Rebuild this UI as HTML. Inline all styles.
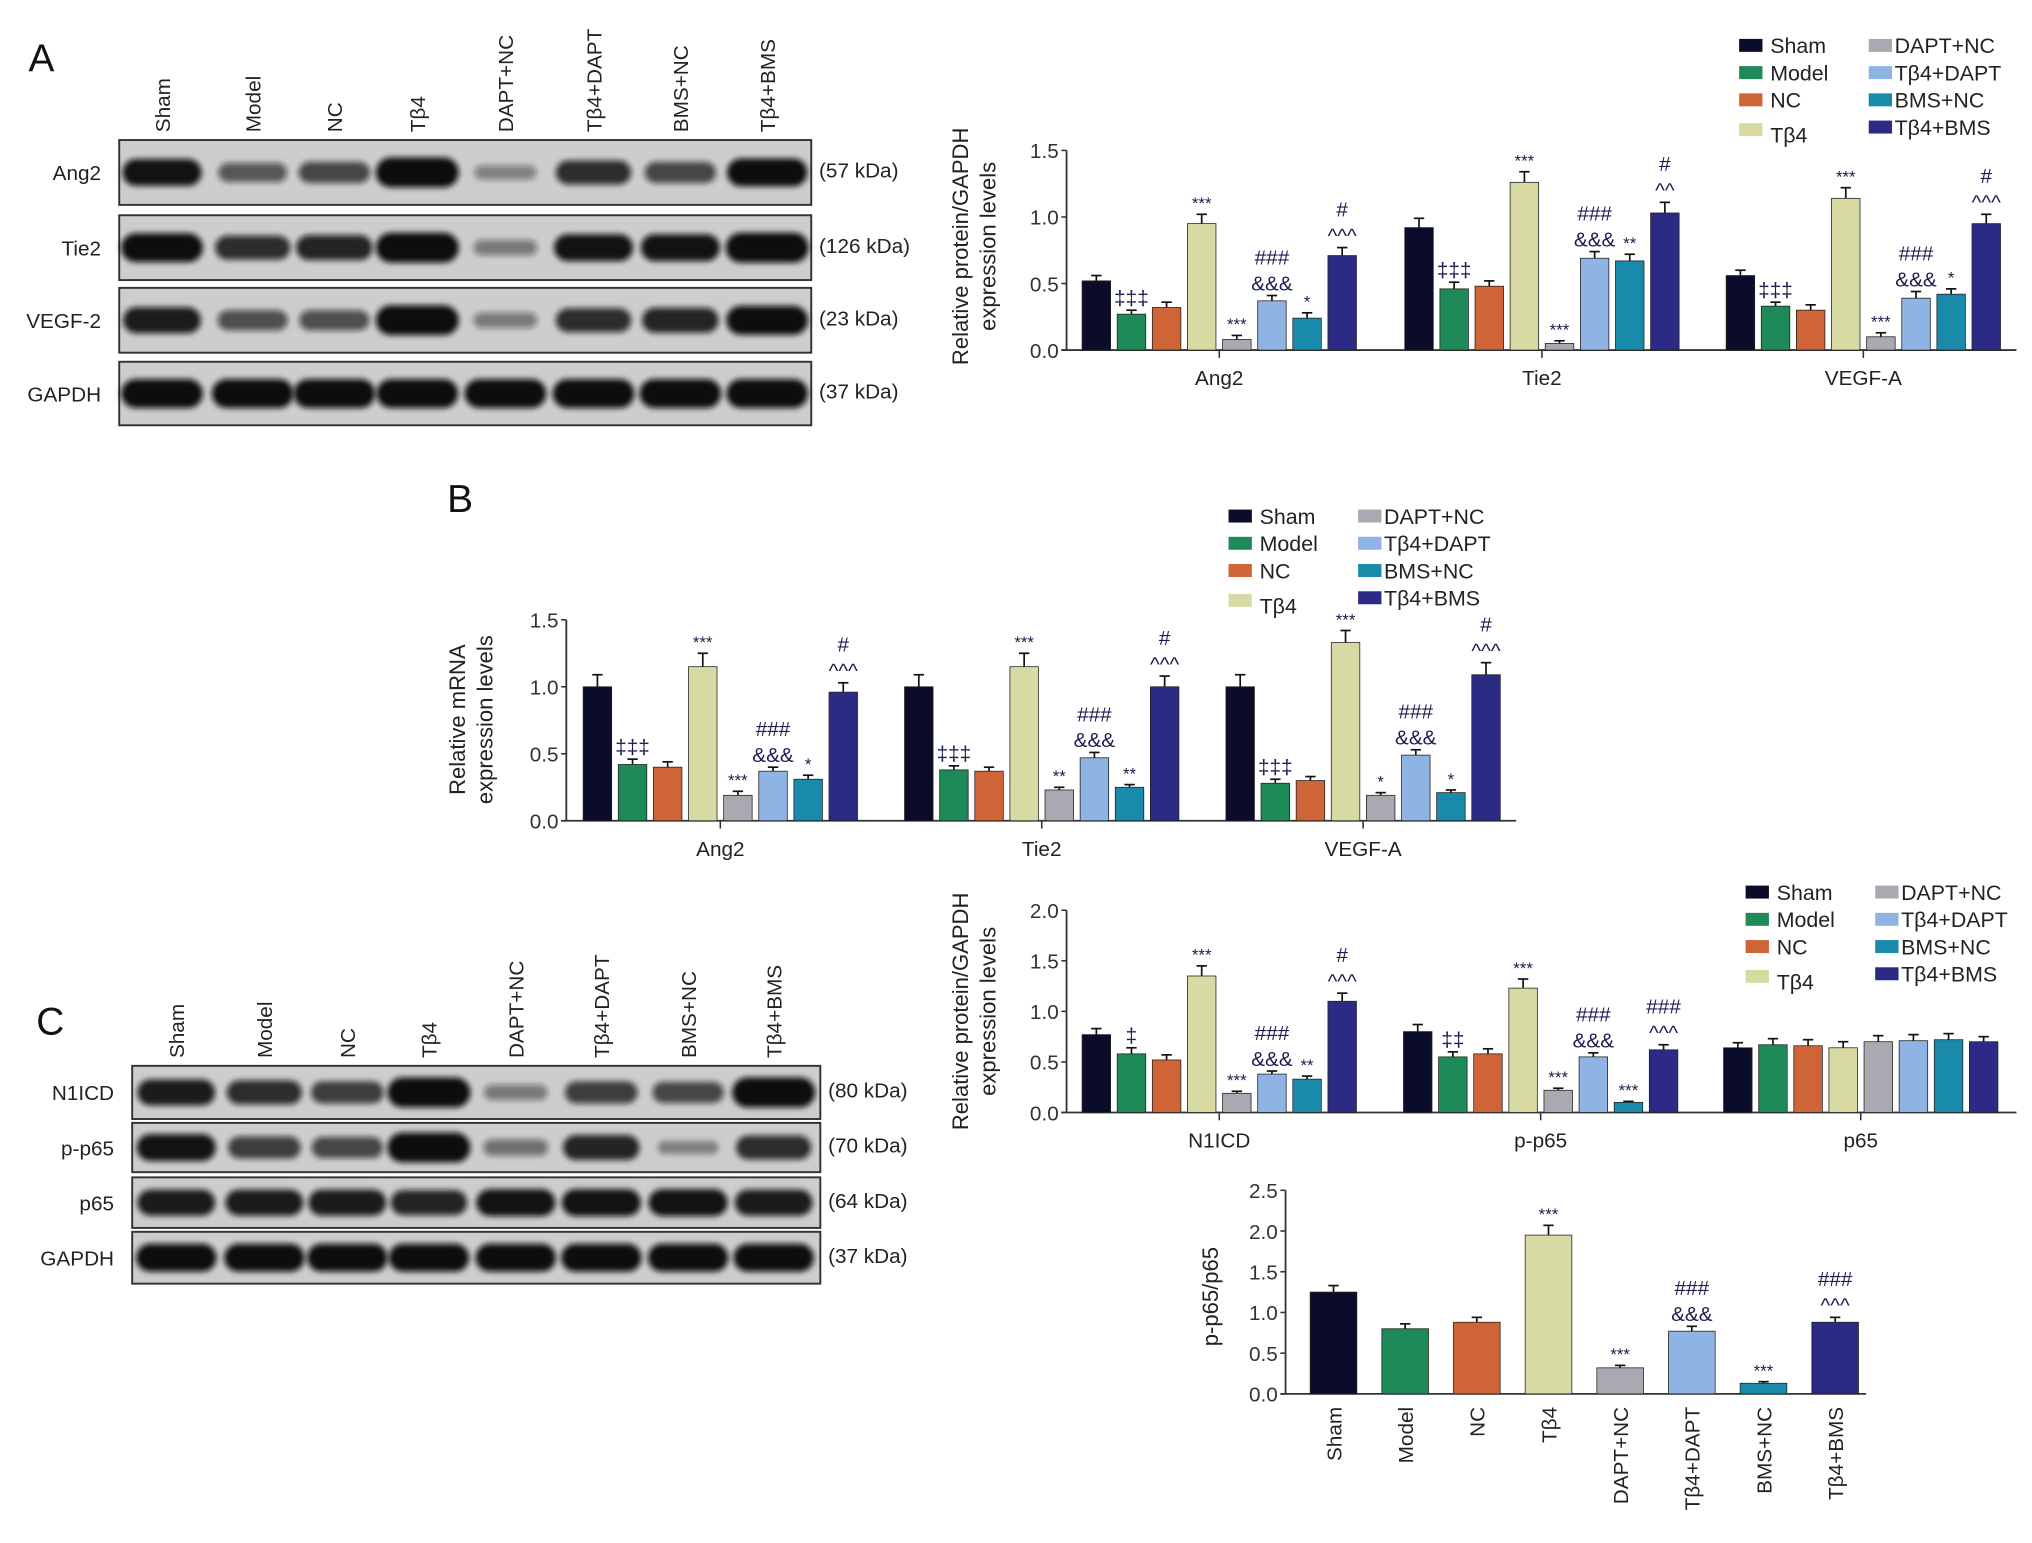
<!DOCTYPE html>
<html><head><meta charset="utf-8"><style>
html,body{margin:0;padding:0;background:#fff;}
svg{display:block;font-family:"Liberation Sans",Arial,sans-serif;}
</style></head><body>
<svg id="fig" width="2032" height="1543" viewBox="0 0 1568 1190" preserveAspectRatio="none">
<defs><filter id="blur" x="-20%" y="-50%" width="140%" height="200%"><feGaussianBlur stdDeviation="2.2"/></filter></defs>
<g id="root"></g>
</svg>
<script>
const groups = ["Sham","Model","NC","Tβ4","DAPT+NC","Tβ4+DAPT","BMS+NC","Tβ4+BMS"];
const colors = ["#0b0b2a","#1e8a58","#cf6437","#d7daa2","#a9a9b2","#8fb3e2","#1a8aab","#2b2b86"];
// Panel A chart
const catA = ["Ang2","Tie2","VEGF-A"];
const valA_Ang2 = [0.52,0.27,0.32,0.95,0.08,0.37,0.24,0.71];
const valA_Tie2 = [0.92,0.46,0.48,1.26,0.05,0.69,0.67,1.03];
const valA_VEGF = [0.56,0.33,0.30,1.14,0.10,0.39,0.42,0.95];
const errA_Ang2 = [0.04,0.03,0.04,0.07,0.03,0.04,0.04,0.06];
const errA_Tie2 = [0.07,0.05,0.04,0.08,0.02,0.05,0.05,0.08];
const errA_VEGF = [0.04,0.03,0.04,0.08,0.03,0.05,0.04,0.07];
const annA_Ang2 = ["","‡‡‡","","***","***","###\n&&&","*","#\n^^^"];
const annA_Tie2 = ["","‡‡‡","","***","***","###\n&&&","**","#\n^^"];
const annA_VEGF = ["","‡‡‡","","***","***","###\n&&&","*","#\n^^^"];
const ticksA = [0.0,0.5,1.0,1.5];
// Panel B chart
const catB = ["Ang2","Tie2","VEGF-A"];
const valB_Ang2 = [1.0,0.42,0.40,1.15,0.19,0.37,0.31,0.96];
const valB_Tie2 = [1.0,0.38,0.37,1.15,0.23,0.47,0.25,1.0];
const valB_VEGF = [1.0,0.28,0.30,1.33,0.19,0.49,0.21,1.09];
const errB_Ang2 = [0.09,0.04,0.04,0.1,0.03,0.03,0.03,0.07];
const errB_Tie2 = [0.09,0.03,0.03,0.1,0.02,0.04,0.02,0.08];
const errB_VEGF = [0.09,0.03,0.03,0.09,0.02,0.04,0.02,0.09];
const annB_Ang2 = ["","‡‡‡","","***","***","###\n&&&","*","#\n^^^"];
const annB_Tie2 = ["","‡‡‡","","***","**","###\n&&&","**","#\n^^^"];
const annB_VEGF = ["","‡‡‡","","***","*","###\n&&&","*","#\n^^^"];
const ticksB = [0.0,0.5,1.0,1.5];
// Panel C top chart
const catC = ["N1ICD","p-p65","p65"];
const valC_N1 = [0.77,0.58,0.52,1.35,0.19,0.38,0.33,1.10];
const valC_pp65 = [0.80,0.55,0.58,1.23,0.22,0.55,0.10,0.62];
const valC_p65 = [0.64,0.67,0.66,0.64,0.70,0.71,0.72,0.70];
const errC_N1 = [0.06,0.06,0.05,0.1,0.02,0.03,0.03,0.08];
const errC_pp65 = [0.07,0.05,0.05,0.09,0.02,0.04,0.01,0.05];
const errC_p65 = [0.05,0.06,0.06,0.06,0.06,0.06,0.06,0.05];
const annC_N1 = ["","‡","","***","***","###\n&&&","**","#\n^^^"];
const annC_pp65 = ["","‡‡","","***","***","###\n&&&","***","###\n^^^"];
const annC_p65 = ["","","","","","","",""];
const ticksC = [0.0,0.5,1.0,1.5,2.0];
// Panel C bottom chart
const valD = [1.25,0.80,0.88,1.95,0.32,0.77,0.13,0.88];
const errD = [0.08,0.06,0.06,0.12,0.03,0.06,0.02,0.06];
const annD = ["","","","***","***","###\n&&&","***","###\n^^^"];
const ticksD = [0.0,0.5,1.0,1.5,2.0,2.5];
// Blot intensities (0-1)
const blotA_Ang2 = [0.85,0.45,0.55,1.0,0.2,0.7,0.55,0.9];
const blotA_Tie2 = [0.95,0.7,0.75,1.0,0.25,0.85,0.85,1.0];
const blotA_VEGF = [0.8,0.5,0.5,1.0,0.25,0.7,0.75,0.95];
const blotA_GAPDH = [0.95,0.95,0.95,0.95,0.95,0.95,0.95,0.95];
const blotC_N1 = [0.8,0.7,0.6,1.0,0.25,0.6,0.55,1.0];
const blotC_pp65 = [0.85,0.6,0.55,1.0,0.3,0.75,0.15,0.7];
const blotC_p65 = [0.8,0.8,0.8,0.75,0.85,0.85,0.85,0.8];
const blotC_GAPDH = [0.9,0.9,0.9,0.9,0.9,0.9,0.9,0.9];

const NS="http://www.w3.org/2000/svg";
const root=document.getElementById('root');
function mk(tag,attrs,parent,text){const e=document.createElementNS(NS,tag);for(const k in attrs)e.setAttribute(k,attrs[k]);if(text!==undefined)e.textContent=text;(parent||root).appendChild(e);return e;}

function txt(x,y,s,size,opts,name,parent){
  const e=mk('text',Object.assign({x:x,y:y,'font-size':size,fill:'#111'},opts||{}),parent,s);
  
  
  return e;
}

function chart(cfg){
  const g=mk('g',{});
  
  
  const ys=v=>cfg.y0-(v/cfg.ymax)*(cfg.y0-cfg.ytop);
  const ax=mk('line',{x1:cfg.x0,y1:cfg.ytop,x2:cfg.x0,y2:cfg.y0,stroke:'#333','stroke-width':1.4},g);
  
  
  const xx=mk('line',{x1:cfg.x0-4,y1:cfg.y0,x2:cfg.xend,y2:cfg.y0,stroke:'#333','stroke-width':1.4},g);
  
  
  cfg.ticks.forEach(t=>{
    const y=ys(t);
    mk('line',{x1:cfg.x0-4,y1:y,x2:cfg.x0,y2:y,stroke:'#333','stroke-width':1.2},g);
    txt(cfg.x0-6,y+6,t.toFixed(1),16,{'text-anchor':'end',fill:'#333'},'y-tick-label',g);
  });
  cfg.series.forEach((sv,gi)=>{
    const start=cfg.starts[gi];
    sv.vals.forEach((v,i)=>{
      const x=start+i*cfg.step, w=cfg.bw;
      const y=ys(v), ye=ys(v+sv.err[i]);
      const cx=x+w/2;
      const el=mk('line',{x1:cx,y1:y,x2:cx,y2:ye,stroke:'#111','stroke-width':1.3},g);
      
      
      mk('line',{x1:cx-4,y1:ye,x2:cx+4,y2:ye,stroke:'#111','stroke-width':1.3},g);
      const r=mk('rect',{x:x,y:y,width:w,height:cfg.y0-y,fill:colors[i],stroke:'#222','stroke-width':0.6},g);
      
      
      const a=sv.ann[i];
      if(a){
        const lines=a.split('\n');
        let yy=ye-4;
        for(let k=lines.length-1;k>=0;k--){
          const s=lines[k];
          const size = s.indexOf('*')>=0 ? 13 : 16;
          txt(cx,yy,s,size,{'text-anchor':'middle',fill:'#1c1c50'},'significance-mark',g);
          yy-=20;
        }
      }
    });
    if(cfg.cats){
      const mid=start+(sv.vals.length*cfg.step-(cfg.step-cfg.bw))/2;
      mk('line',{x1:mid,y1:cfg.y0,x2:mid,y2:cfg.y0+6,stroke:'#333','stroke-width':1.2},g);
      txt(mid,cfg.y0+27,cfg.cats[gi],16,{'text-anchor':'middle',fill:'#222'},'x-category-label',g);
    }
  });
  const lg=mk('g',{transform:`translate(${cfg.ylx},${cfg.ylc}) rotate(-90)`},g);
  cfg.ylabel.forEach((s,k)=>txt(0,k*21,s,17,{'text-anchor':'middle',fill:'#222'},'y-axis-title',lg));
  return g;
}

function legend(x,y){
  const g=mk('g',{});
  
  
  groups.forEach((n,i)=>{
    const col=Math.floor(i/4), row=i%4;
    const lx=x+col*100, ly=y+row*21+(col==0&&row==3?2:0);
    const r=mk('rect',{x:lx,y:ly-10,width:18,height:10,fill:colors[i]},g);
    
    
    txt(lx+(col?20:24),ly+(col==0&&row==3?5:1),n,16.5,{fill:'#222'},'legend-entry',g);
  });
}

function blot(cfg){
  const g=mk('g',{});
  
  
  cfg.rows.forEach((row,ri)=>{
    const [y1,y2]=row.y;
    const r=mk('rect',{x:cfg.x1,y:y1,width:cfg.x2-cfg.x1,height:y2-y1,fill:'#cdcdcd',stroke:'#333','stroke-width':1.5},g);
    
    
    const cy=(y1+y2)/2;
    row.int.forEach((v,i)=>{
      const cx=cfg.lanes[i];
      const h=8+v*15, w=44+v*20;
      mk('rect',{x:cx-w/2,y:cy-h/2,width:w,height:h,rx:h/2,fill:'#111','fill-opacity':Math.min(1,0.25+v*0.85),filter:'url(#blur)'},g);
    });
    txt(cfg.x1-14,cy+6,row.label,16,{'text-anchor':'end',fill:'#222'},'blot-row-label',g);
    txt(cfg.x2+6,cy+4,row.kda,16,{fill:'#222'},'molecular-weight-label',g);
  });
  cfg.lanes.forEach((cx,i)=>{
    const t=mk('g',{transform:`translate(${cx+6},${cfg.labY}) rotate(-90)`},g);
    txt(0,0,groups[i],16,{fill:'#222'},'lane-label',t);
  });
}

txt(22,55,'A',30,{fill:'#111'},'panel-label-a');
txt(345,395,'B',30,{fill:'#111'},'panel-label-b');
txt(28,798,'C',30,{fill:'#111'},'panel-label-c');

blot({name:'western-blot-a',x1:92,x2:626,lanes:[125,195,258,322,390,458,525,592],labY:102,rows:[
 {label:'Ang2',kda:'(57 kDa)',y:[108,158],int:blotA_Ang2},
 {label:'Tie2',kda:'(126 kDa)',y:[166,216],int:blotA_Tie2},
 {label:'VEGF-2',kda:'(23 kDa)',y:[222,272],int:blotA_VEGF},
 {label:'GAPDH',kda:'(37 kDa)',y:[279,328],int:blotA_GAPDH}]});
blot({name:'western-blot-c',x1:102,x2:633,lanes:[136,204,268,331,398,464,531,597],labY:816,rows:[
 {label:'N1ICD',kda:'(80 kDa)',y:[822,863],int:blotC_N1},
 {label:'p-p65',kda:'(70 kDa)',y:[866,904],int:blotC_pp65},
 {label:'p65',kda:'(64 kDa)',y:[908,947],int:blotC_p65},
 {label:'GAPDH',kda:'(37 kDa)',y:[950,990],int:blotC_GAPDH}]});

chart({name:'protein-chart-a',x0:823,xend:1556,y0:270,ytop:116,ymax:1.5,ticks:ticksA,bw:22,step:27.1,starts:[835,1084,1332],cats:catA,
 series:[{vals:valA_Ang2,err:errA_Ang2,ann:annA_Ang2},{vals:valA_Tie2,err:errA_Tie2,ann:annA_Tie2},{vals:valA_VEGF,err:errA_VEGF,ann:annA_VEGF}],
 ylx:747,ylc:190,ylabel:['Relative protein/GAPDH','expression levels']});
legend(1342,40);

chart({name:'mrna-chart-b',x0:437,xend:1170,y0:633,ytop:478,ymax:1.5,ticks:ticksB,bw:22,step:27.1,starts:[450,698,946],cats:catB,
 series:[{vals:valB_Ang2,err:errB_Ang2,ann:annB_Ang2},{vals:valB_Tie2,err:errB_Tie2,ann:annB_Tie2},{vals:valB_VEGF,err:errB_VEGF,ann:annB_VEGF}],
 ylx:359,ylc:555,ylabel:['Relative mRNA','expression levels']});
legend(948,403);

chart({name:'protein-chart-c',x0:823,xend:1556,y0:858,ytop:702,ymax:2.0,ticks:ticksC,bw:22,step:27.1,starts:[835,1083,1330],cats:catC,
 series:[{vals:valC_N1,err:errC_N1,ann:annC_N1},{vals:valC_pp65,err:errC_pp65,ann:annC_pp65},{vals:valC_p65,err:errC_p65,ann:annC_p65}],
 ylx:747,ylc:780,ylabel:['Relative protein/GAPDH','expression levels']});
legend(1347,693);

chart({name:'pp65-ratio-chart',x0:992,xend:1440,y0:1075,ytop:918,ymax:2.5,ticks:ticksD,bw:36,step:55.3,starts:[1011],cats:null,
 series:[{vals:valD,err:errD,ann:annD}],ylx:940,ylc:1000,ylabel:['p-p65/p65']});
groups.forEach((n,i)=>{
  const cx=1011+i*55.3+18;
  const t=mk('g',{transform:`translate(${cx+6},${1085}) rotate(-90)`});
  txt(0,0,n,16,{'text-anchor':'end',fill:'#222'},'x-category-label',t);
});
</script>
</body></html>
